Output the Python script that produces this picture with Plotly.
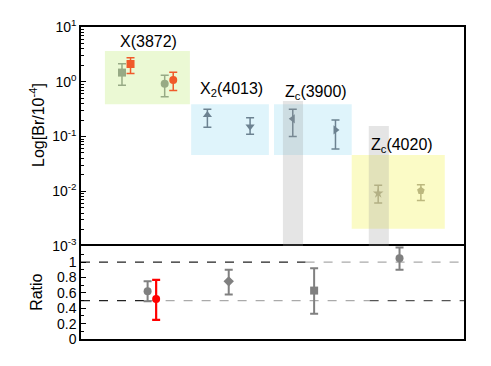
import plotly.graph_objects as go

# ---------------- data ----------------
# top panel: branching fractions (units of 1e-4), log scale
x3872_x = [1.0, 2.0]
x3872_green = [1.47, 0.92]
x3872_green_up = [2.14, 1.32]
x3872_green_lo = [0.86, 0.53]
x3872_orange_x = [1.2, 2.2]
x3872_orange = [2.11, 1.08]
x3872_orange_up = [2.75, 1.49]
x3872_orange_lo = [1.41, 0.69]

x2_x = [3.0, 4.0]
x2_val = [0.248, 0.152]
x2_up = [0.315, 0.221]
x2_lo = [0.148, 0.110]

zc3900_x = [5.0, 6.0]
zc3900_val = [0.21, 0.132]
zc3900_up = [0.315, 0.201]
zc3900_lo = [0.0995, 0.0594]

zc4020_x = [7.0, 8.0]
zc4020_val = [0.0092, 0.0102]
zc4020_up = [0.0129, 0.0132]
zc4020_lo = [0.0061, 0.00676]

# bottom panel: ratios
ratio_gray_x = [1.6, 3.5, 5.5, 7.5]
ratio_gray = [0.62, 0.75, 0.63, 1.05]
ratio_gray_up = [0.75, 0.90, 0.92, 1.19]
ratio_gray_lo = [0.49, 0.58, 0.33, 0.90]
ratio_gray_symbols = ["circle", "diamond", "square", "circle"]
ratio_red_x = [1.8]
ratio_red = [0.52]
ratio_red_up = [0.77]
ratio_red_lo = [0.25]

labels = ["X(3872)", "X<sub>2</sub>(4013)", "Z<sub>c</sub>(3900)", "Z<sub>c</sub>(4020)"]
label_x = [0.91, 2.78, 4.77, 6.78]
label_logy = [0.73, -0.15, -0.205, -1.17]

# shaded boxes (x0, x1, y0, y1)
boxes = [
    (0.6, 2.59, 0.39, 3.65, "#ebf9d4"),
    (2.62, 4.44, 0.046, 0.39, "#dff4fb"),
    (4.56, 6.38, 0.046, 0.39, "#dff4fb"),
    (6.38, 8.56, 0.00206, 0.046, "#fbfbc6"),
]
bands = [(4.77, 5.24, 0.447), (6.78, 7.25, 0.156)]

top_ticks = [1e-3, 1e-2, 1e-1, 1e0, 1e1]
top_ticktext = ["10<sup>-3</sup>", "10<sup>-2</sup>", "10<sup>-1</sup>", "10<sup>0</sup>", "10<sup>1</sup>"]
minor_top = [m * 10 ** e for e in range(-3, 1) for m in range(2, 10)]
bot_ticks = [0, 0.2, 0.4, 0.6, 0.8, 1.0]
bot_ticktext = ["0", "0.2", "0.4", "0.6", "0.8", "1"]


def err(val, up, lo, thickness=1.5):
    return dict(type="data", symmetric=False,
                array=[u - v for u, v in zip(up, val)],
                arrayminus=[v - l for v, l in zip(val, lo)],
                thickness=thickness, width=4)


fig = go.Figure()

green = "#97aa85"
orange = "#f05a2a"
slate = "#6c8291"
olive = "#bcb87e"

def add_top(x, y, up, lo, color, symbols):
    fig.add_trace(go.Scatter(x=x, y=y, mode="markers", xaxis="x", yaxis="y",
                             marker=dict(color=color, size=8, symbol=symbols),
                             error_y=dict(err(y, up, lo), color=color),
                             showlegend=False, hoverinfo="skip"))

add_top(x3872_x, x3872_green, x3872_green_up, x3872_green_lo, green, ["square", "circle"])
add_top(x3872_orange_x, x3872_orange, x3872_orange_up, x3872_orange_lo, orange, ["square", "circle"])
add_top(x2_x, x2_val, x2_up, x2_lo, slate, ["triangle-up", "triangle-down"])
add_top(zc3900_x, zc3900_val, zc3900_up, zc3900_lo, slate, ["triangle-left", "triangle-right"])
add_top(zc4020_x, zc4020_val, zc4020_up, zc4020_lo, olive, ["star", "pentagon"])

fig.add_trace(go.Scatter(x=ratio_gray_x, y=ratio_gray, mode="markers", xaxis="x2", yaxis="y2",
                         marker=dict(color="#808080", size=8, symbol=ratio_gray_symbols),
                         error_y=dict(err(ratio_gray, ratio_gray_up, ratio_gray_lo, 2), color="#808080"),
                         showlegend=False, hoverinfo="skip"))
fig.add_trace(go.Scatter(x=ratio_red_x, y=ratio_red, mode="markers", xaxis="x2", yaxis="y2",
                         marker=dict(color="#ff0000", size=8, symbol="circle"),
                         error_y=dict(err(ratio_red, ratio_red_up, ratio_red_lo, 2.2), color="#ff0000"),
                         showlegend=False, hoverinfo="skip"))

shapes = []
for x0, x1, y0, y1, c in boxes:
    shapes.append(dict(type="rect", xref="x", yref="y", x0=x0, x1=x1, y0=y0, y1=y1,
                       fillcolor=c, line=dict(width=0), layer="below"))
for x0, x1, y1 in bands:
    shapes.append(dict(type="rect", xref="x", yref="y", x0=x0, x1=x1, y0=1e-3, y1=y1,
                       fillcolor="rgba(150,150,150,0.25)", line=dict(width=0), layer="above"))
# dashed reference lines in ratio panel
for x0, x1, yv, c in [(0.04, 5.3, 1.0, "#222222"), (5.3, 9.01, 1.0, "#aaaaaa"),
                      (0.04, 1.6, 0.5, "#222222"), (1.6, 6.8, 0.5, "#aaaaaa"),
                      (6.8, 9.01, 0.5, "#555555")]:
    shapes.append(dict(type="line", xref="x2", yref="y2", x0=x0, x1=x1, y0=yv, y1=yv,
                       line=dict(color=c, width=1.2, dash="dash"), layer="below"))

annotations = []
for t, x, y in zip(labels, label_x, label_logy):
    annotations.append(dict(text=t, x=x, y=y, xref="x", yref="y", xanchor="left", yanchor="middle",
                            showarrow=False, font=dict(size=16, color="black")))
annotations.append(dict(text="Log[Br/10<sup>-4</sup>]", x=-0.115, y=0.686, xref="paper", yref="paper",
                        xanchor="center", yanchor="middle",
                        textangle=-90, showarrow=False, font=dict(size=16, color="black")))
annotations.append(dict(text="Ratio", x=-0.115, y=0.151, xref="paper", yref="paper",
                        xanchor="center", yanchor="middle",
                        textangle=-90, showarrow=False, font=dict(size=16, color="black")))

axis_common = dict(showline=True, linecolor="black", linewidth=1.5,
                   showgrid=False, zeroline=False)
split = 93 / 312

fig.update_layout(
    width=491, height=366,
    margin=dict(l=81, r=27, t=27, b=27),
    paper_bgcolor="white", plot_bgcolor="white",
    font=dict(family="Liberation Sans, Arial, sans-serif", size=14, color="black"),
    shapes=shapes, annotations=annotations,
    xaxis=dict(axis_common, domain=[0, 1], anchor="y", range=[0.04, 9.01], side="top",
               mirror=False, showticklabels=False, ticks=""),
    yaxis=dict(axis_common, mirror=True, domain=[split, 1], anchor="x", type="log", range=[-3, 1],
               tickvals=top_ticks, ticktext=top_ticktext, ticks="inside", ticklen=5,
               tickwidth=1.2, tickcolor="black",
               minor=dict(ticks="inside", ticklen=3, tickvals=minor_top, tickcolor="black", tickwidth=1)),
    xaxis2=dict(axis_common, mirror=True, linewidth=2, domain=[0, 1], anchor="y2", range=[0.04, 9.01],
                showticklabels=False, ticks=""),
    yaxis2=dict(axis_common, mirror=True, domain=[0, split], anchor="x2", range=[0, 1.21],
                tickvals=bot_ticks, ticktext=bot_ticktext, ticks="inside", ticklen=5,
                tickwidth=1.2, tickcolor="black",
                minor=dict(ticks="inside", ticklen=3, dtick=0.1, tickcolor="black", tickwidth=1)),
)

fig.write_html("out.html", config={"displayModeBar": False},
               post_script="document.body.style.margin='0px';document.body.style.overflow='hidden';")
